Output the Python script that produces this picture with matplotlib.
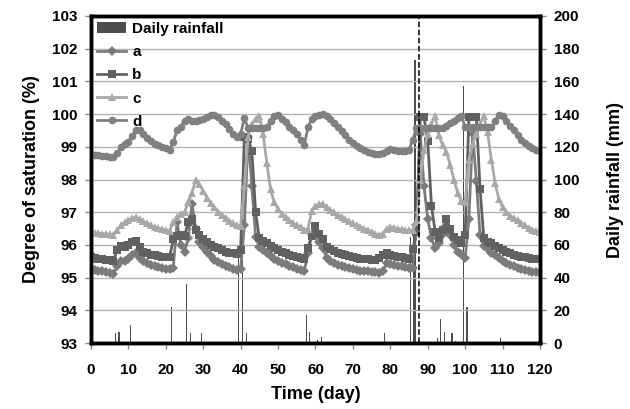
import numpy as np
import matplotlib
matplotlib.use("Agg")
import matplotlib.pyplot as plt

plt.rcParams['font.family'] = ['Liberation Sans', 'DejaVu Sans']
plt.rcParams['font.weight'] = 'bold'

days = list(range(0, 121))

# degree of saturation (%) for each day
sat_a = [95.26, 95.24, 95.22, 95.2, 95.18, 95.15, 95.12, 95.35, 95.5, 95.52,
         95.56, 95.7, 95.77, 95.6, 95.5, 95.45, 95.4, 95.36, 95.33, 95.3,
         95.28, 95.26, 95.3, 96.7, 96.0, 95.8, 96.2, 97.25, 96.5, 96.1,
         95.95, 95.8, 95.65, 95.55, 95.48, 95.42, 95.36, 95.32, 95.28, 95.25,
         95.26, 96.6, 99.3, 97.8, 96.25, 95.95, 95.85, 95.75, 95.65, 95.58,
         95.52, 95.46, 95.41, 95.36, 95.32, 95.28, 95.24, 95.2, 95.75, 96.3,
         96.38, 96.1, 95.9, 95.6, 95.5, 95.45, 95.4, 95.36, 95.32, 95.29,
         95.26, 95.24, 95.22, 95.21, 95.2, 95.18, 95.17, 95.15, 95.2, 95.45,
         95.41, 95.4, 95.37, 95.35, 95.33, 95.31, 95.3, 96.6, 99.4, 97.8,
         96.8, 96.2, 95.9, 96.05, 96.35, 96.58, 96.3, 96.0, 95.8, 95.72,
         95.6, 96.8, 99.4, 97.95, 96.3, 95.97, 95.87, 95.77, 95.68, 95.6,
         95.52, 95.46, 95.4, 95.35, 95.3, 95.27, 95.24, 95.21, 95.18, 95.16,
         95.15]
sat_b = [95.62, 95.6, 95.58, 95.56, 95.55, 95.53, 95.52, 95.85, 95.97, 95.95,
         96.0, 96.1, 96.12, 95.95, 95.8, 95.75, 95.7, 95.68, 95.66, 95.64,
         95.63, 95.62, 96.18, 96.28, 96.3, 96.28, 96.7, 96.78, 96.45, 96.3,
         96.18, 96.1, 96.0, 95.95, 95.9, 95.85, 95.8, 95.77, 95.74, 95.72,
         95.85, 99.3, 99.25, 98.87, 97.0, 96.2, 96.12, 96.05, 95.98, 95.92,
         95.85, 95.8, 95.75, 95.7, 95.67, 95.63, 95.6, 95.57, 95.92, 96.28,
         96.58, 96.35, 96.18, 95.95, 95.88, 95.82, 95.77, 95.72, 95.68, 95.65,
         95.62, 95.6, 95.58, 95.57, 95.56, 95.55, 95.55, 95.6, 95.7, 95.77,
         95.7, 95.65, 95.63, 95.62, 95.6, 95.57, 95.87, 96.4, 99.9, 99.92,
         99.18, 97.2, 96.4, 96.2, 96.45, 96.78, 96.5, 96.25, 96.15, 96.05,
         96.3, 99.9, 99.92, 99.92, 97.7, 96.2, 96.1, 96.05, 95.98, 95.92,
         95.85, 95.8, 95.75, 95.7, 95.67, 95.64, 95.62, 95.6, 95.58, 95.57,
         95.56]
sat_c = [96.38, 96.37, 96.36, 96.35, 96.34, 96.33, 96.32, 96.45, 96.6, 96.7,
         96.75, 96.82, 96.85, 96.78, 96.72, 96.66, 96.6, 96.55, 96.52, 96.48,
         96.45, 96.43, 96.7, 96.85, 96.95, 97.0, 97.3, 97.6, 98.0, 97.85,
         97.65, 97.45, 97.28, 97.15, 97.02, 96.92, 96.82, 96.74, 96.67, 96.6,
         96.58, 97.8, 99.3, 99.7, 99.85, 99.95, 99.4, 98.5, 97.7, 97.3,
         97.1, 96.95, 96.85, 96.75, 96.67, 96.6, 96.54, 96.47, 96.5, 97.05,
         97.2, 97.25, 97.25, 97.17, 97.08, 97.0, 96.92, 96.85, 96.78, 96.72,
         96.66, 96.6, 96.55, 96.5, 96.45, 96.4, 96.35, 96.3, 96.35, 96.5,
         96.55, 96.53, 96.5, 96.48, 96.46, 96.45, 96.45, 96.7, 98.0, 98.9,
         99.4, 99.7, 99.95, 99.35, 99.05, 98.85, 98.45, 98.0, 97.6, 97.35,
         97.3, 98.6, 99.1, 99.4, 99.7, 99.95, 99.45, 98.6, 97.9, 97.4,
         97.15, 97.0, 96.9, 96.82, 96.76, 96.68, 96.6, 96.52, 96.47, 96.43,
         96.4]
sat_d = [98.77, 98.76, 98.75, 98.73, 98.72, 98.7, 98.68, 98.8, 98.98, 99.1,
         99.15, 99.33, 99.5, 99.5, 99.4, 99.28, 99.18, 99.1, 99.05, 99.0,
         98.95, 98.9, 99.15, 99.5, 99.62, 99.8, 99.85, 99.8, 99.78, 99.82,
         99.85, 99.9, 99.96, 99.97, 99.92, 99.8, 99.7, 99.55, 99.4, 99.3,
         99.4, 99.87, 99.58, 99.58, 99.58, 99.58, 99.58, 99.62, 99.8, 99.95,
         99.97, 99.85, 99.75, 99.62, 99.5, 99.38, 99.2, 99.05, 99.6, 99.85,
         99.95, 99.98, 100.0, 99.95, 99.85, 99.72, 99.6, 99.48, 99.35, 99.22,
         99.12, 99.04, 98.97, 98.9, 98.85, 98.8, 98.78, 98.77, 98.8, 98.86,
         98.92, 98.9, 98.88, 98.87, 98.87, 98.9, 99.22, 99.58, 99.58, 99.58,
         99.58, 99.58, 99.58, 99.58, 99.58, 99.65, 99.72, 99.8, 99.88, 99.95,
         99.6, 99.6, 99.6, 99.6, 99.6, 99.6, 99.6, 99.6, 99.8, 99.98,
         99.95, 99.8, 99.65, 99.5, 99.35, 99.22, 99.12, 99.03, 98.95, 98.9,
         98.87]

# daily rainfall (mm)
rain_day = [6.5, 7.5, 10.5, 17.5, 21.5, 25.5, 26.5, 29.5, 39.5, 40.5,
            41.5, 51.5, 57.5, 58.5, 60.5, 61.5, 70.5, 78.5, 82.5, 85.5,
            86.1, 86.6, 90.5, 92.5, 93.5, 94.5, 96.5, 97.5, 99.5, 100.5, 109.5]
rain_mm = [6, 7, 11, 1, 22, 36, 6, 6, 55, 58,
           6, 0.5, 17, 7, 2, 3.5, 0.5, 6, 0.5, 65,
           70, 173, 1, 3, 15, 7, 6, 1.5, 157, 22, 3]

event_day = 87.7

fig = plt.figure(figsize=(6.3, 4.09), dpi=100)
ax = fig.add_axes([0.1444, 0.161, 0.7127, 0.8])
ax2 = ax.twinx()

ax2.bar(rain_day, rain_mm, width=0.3, color='#4d4d4d', label='Daily rainfall')
ax2.set_ylim(0, 200)
ax2.set_yticks(range(0, 201, 20))

series = [('a', sat_a, 'D', '#7b7b7b'),
          ('b', sat_b, 's', '#616161'),
          ('c', sat_c, '^', '#a8a8a8'),
          ('d', sat_d, 'o', '#808080')]
lines = []
for name, vals, mk, col in series:
    ln, = ax.plot(days, vals, marker=mk, color=col, lw=2, ms=5.5,
                  markeredgewidth=0, label=name)
    lines.append(ln)

ax.axvline(event_day, color='black', ls='--', lw=1.1)

ax.set_zorder(ax2.get_zorder() + 1)
ax.patch.set_visible(False)

ax.set_xlim(0, 120)
ax.set_ylim(93, 103)
ax.set_xticks(range(0, 121, 10))
ax.set_yticks(range(93, 104))
ax.grid(axis='y', color='#b4b4b4', lw=1)
ax.set_axisbelow(True)

for a_ in (ax, ax2):
    for sp in a_.spines.values():
        sp.set_linewidth(2.5)
        sp.set_color('black')
    a_.tick_params(labelsize=11, length=4, width=1, color='#888888', pad=6)
ax.tick_params(axis='x', pad=10)

ax.set_xlabel('Time (day)', fontsize=13, fontweight='bold', labelpad=7)
ax.set_ylabel('Degree of saturation (%)', fontsize=13, fontweight='bold', labelpad=8)
ax2.set_ylabel('Daily rainfall (mm)', fontsize=13, fontweight='bold', labelpad=20)

bar_handle = ax2.patches[0]
ax.legend([bar_handle] + lines, ['Daily rainfall', 'a', 'b', 'c', 'd'],
          loc='upper left', frameon=False, fontsize=11, handlelength=1.9,
          handletextpad=0.4, labelspacing=0.6, borderaxespad=0.0)

fig.savefig('out.png', dpi=100)
